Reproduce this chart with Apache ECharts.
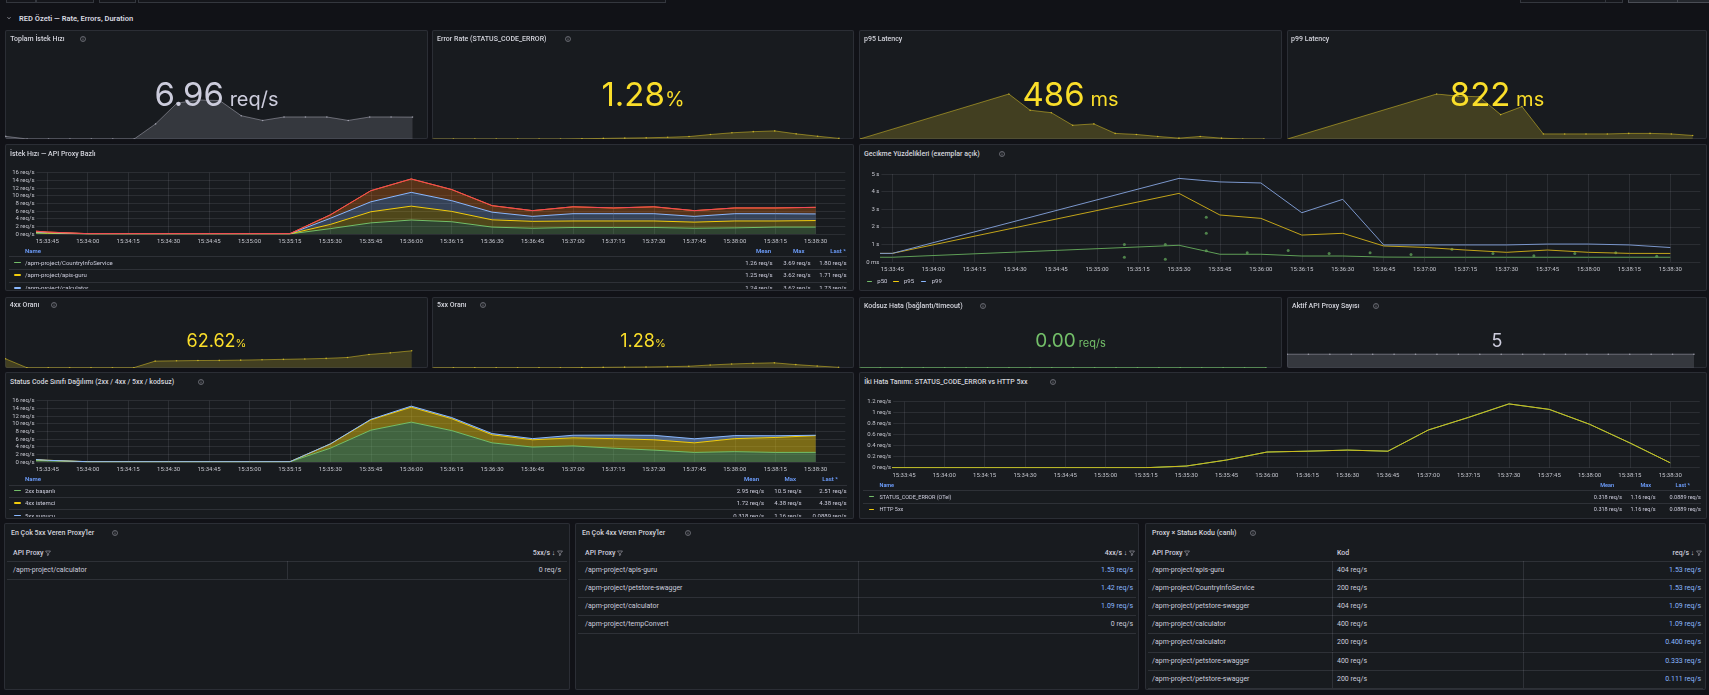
<!DOCTYPE html>
<html lang="tr"><head><meta charset="utf-8"><title>RED Özeti</title>
<script src="https://cdn.jsdelivr.net/npm/echarts@6.0.0/dist/echarts.min.js"></script>
<style>
*{box-sizing:border-box;}
html,body{margin:0;padding:0;background:#111217;}
body{position:relative;width:1709px;height:695px;overflow:hidden;font-family:Roboto,"Liberation Sans",sans-serif;color:#ccccdc;}
.panel{position:absolute;background:#181b1f;box-shadow:inset 0 0 0 1px #2b2e35;border-radius:2px;overflow:hidden;}
.t{position:absolute;white-space:nowrap;height:10px;line-height:10px;}
.stat{position:absolute;left:0;right:0;height:0;line-height:0;text-align:center;white-space:nowrap;font-family:Inter,"Noto Sans",sans-serif;}
.topbox{position:absolute;top:-20px;height:22.7px;border:1px solid #34373e;background:#15161b;}
svg{display:inline-block;vertical-align:middle;}
</style></head><body>
<script>
// ================= DATA =================
const times = ['15:33:30','15:33:45','15:34:00','15:34:15','15:34:30','15:34:45','15:35:00','15:35:15','15:35:30','15:35:45','15:36:00','15:36:15','15:36:30','15:36:45','15:37:00','15:37:15','15:37:30','15:37:45','15:38:00','15:38:15','15:38:30'];
const tickLabels = ['15:33:45','15:34:00','15:34:15','15:34:30','15:34:45','15:35:00','15:35:15','15:35:30','15:35:45','15:36:00','15:36:15','15:36:30','15:36:45','15:37:00','15:37:15','15:37:30','15:37:45','15:38:00','15:38:15','15:38:30'];
const rangeStart = '15:33:41';
const rangeEnd = '15:38:41';

// İstek Hızı — API Proxy Bazlı (req/s, stacked)
const proxyNames = ['/apm-project/CountryInfoService','/apm-project/apis-guru','/apm-project/calculator','/apm-project/petstore-swagger','/apm-project/tempConvert'];
const rateCountryInfo = [0.35,0.15,0.02,0.02,0.02,0.02,0.02,0.02,1.4,2.9,3.65,3.2,1.8,1.5,1.7,1.7,1.7,1.5,1.6,1.8,1.80];
const rateApisGuru    = [0.30,0.12,0.02,0.02,0.02,0.02,0.02,0.02,1.1,2.9,3.62,2.7,1.9,1.8,1.7,1.7,1.7,1.6,1.8,1.6,1.71];
const rateCalculator  = [0.30,0.12,0.02,0.02,0.02,0.02,0.02,0.02,1.6,2.6,3.6,2.8,2.0,1.3,1.9,1.9,1.9,1.5,1.9,1.9,1.73];
const ratePetstore    = [0.35,0.12,0.03,0.03,0.03,0.03,0.03,0.03,0.9,2.9,3.5,2.9,1.7,1.5,1.8,1.5,1.8,1.5,1.5,1.5,1.72];
const rateTempConvert = [0,0,0,0,0,0,0,0,0,0,0,0,0,0,0,0,0,0,0,0,0];
const proxyMean = ['1.26 req/s','1.25 req/s','1.24 req/s','1.22 req/s','0 req/s'];
const proxyMax  = ['3.69 req/s','3.62 req/s','3.62 req/s','3.50 req/s','0 req/s'];
const proxyLast = ['1.80 req/s','1.71 req/s','1.73 req/s','1.72 req/s','0 req/s'];

// Gecikme Yüzdelikleri (seconds)
const latP50 = [0.27,0.27,null,null,null,null,null,null,0.95,0.44,0.44,0.34,0.34,0.28,0.27,0.27,0.27,0.27,0.27,0.27,0.27];
const latP95 = [0.49,0.49,null,null,null,null,null,null,3.9,2.67,2.48,1.53,1.63,0.91,0.83,0.68,0.55,0.68,0.55,0.49,0.486];
const latP99 = [0.49,0.49,null,null,null,null,null,null,4.75,4.55,4.49,2.8,3.56,0.97,0.97,0.97,0.97,1.02,1.02,0.97,0.822];
const exemplarTimes  = ['15:35:10','15:35:10','15:35:25','15:35:25','15:35:40','15:35:40','15:35:40','15:35:55','15:36:10','15:36:25','15:36:40','15:36:55','15:37:10','15:37:25','15:37:40','15:37:55','15:38:10','15:38:25'];
const exemplarValues = [1.0,0.27,1.0,0.15,2.54,1.63,0.64,0.53,0.66,0.49,0.53,0.42,0.72,0.49,0.36,0.49,0.53,0.32];

// Status Code Sınıfı Dağılımı (req/s, stacked)
const codeNames = ['2xx başarılı','4xx istemci','5xx sunucu'];
const code2xx = [0.6,0.35,0.05,0.05,0.05,0.05,0.05,0.05,3.6,8.3,10.4,8.2,5.0,3.9,4.2,3.6,3.1,2.5,2.7,2.5,2.51];
const code4xx = [0.5,0.10,0.03,0.03,0.03,0.03,0.03,0.03,1.1,2.7,3.9,3.1,2.1,1.9,2.1,2.5,2.7,2.5,3.4,3.9,4.38];
const code5xx = [0,0,0,0,0,0,0,0,0.03,0.14,0.285,0.30,0.32,0.30,0.685,0.915,1.16,1.06,0.79,0.45,0.0889];
const codeMean = ['2.95 req/s','1.72 req/s','0.318 req/s'];
const codeMax  = ['10.5 req/s','4.38 req/s','1.16 req/s'];
const codeLast = ['2.51 req/s','4.38 req/s','0.0889 req/s'];

// İki Hata Tanımı
const errNames = ['STATUS_CODE_ERROR (OTel)','HTTP 5xx'];
const errOtel  = [0,0,0,0,0,0,0,0,0.03,0.14,0.285,0.30,0.32,0.30,0.685,0.915,1.16,1.06,0.79,0.45,0.0889];
const errHttp5xx = [0,0,0,0,0,0,0,0,0.03,0.14,0.285,0.30,0.32,0.30,0.685,0.915,1.16,1.06,0.79,0.45,0.0889];
const errMean = ['0.318 req/s','0.318 req/s'];
const errMax  = ['1.16 req/s','1.16 req/s'];
const errLast = ['0.0889 req/s','0.0889 req/s'];

// Stat sparklines (15:33:45 .. 15:38:30)
const sparkTotal     = [0.84,0,0,0,0,0,0,4.8,11.4,12.4,12.2,7.4,5.9,7.0,7.0,7.0,5.9,7.0,7.0,6.96];
const sparkErrorRate = [0,0,0,0,0,0,0,0.6,1.3,2.0,2.6,3.8,5.4,10.0,13.8,16.3,18.0,11.4,6.2,1.28];
const sparkP95 = [0.49,null,null,null,null,null,null,3.9,2.67,2.48,1.53,1.63,0.91,0.83,0.68,0.55,0.68,0.55,0.49,0.486];
const sparkP99 = [0.49,null,null,null,null,null,null,4.75,4.55,4.49,2.8,3.56,0.97,0.97,0.97,0.97,1.02,1.02,0.97,0.822];
const spark4xxRatio = [33,0,0,0,0,0,0,24.4,25.5,26.5,27,28,29.5,31,32.5,34.5,38,49,55,62.62];
const spark5xxRatio = [0,0,0,0,0,0,0,0.6,1.3,2.0,2.6,3.8,5.4,10.0,13.8,16.3,18.0,11.4,6.2,1.28];
const sparkNoCode = [0,0,0,0,0,0,0,0,0,0,0,0,0,0,0,0,0,0,0,0];
const sparkProxyCount = [5,5,5,5,5,5,5,5,5,5,5,5,5,5,5,5,5,5,5,5];

// Tables
const top5xxProxy = ['/apm-project/calculator'];
const top5xxValue = ['0 req/s'];
const top4xxProxy = ['/apm-project/apis-guru','/apm-project/petstore-swagger','/apm-project/calculator','/apm-project/tempConvert'];
const top4xxValue = ['1.53 req/s','1.42 req/s','1.09 req/s','0 req/s'];
const matrixProxy = ['/apm-project/apis-guru','/apm-project/CountryInfoService','/apm-project/petstore-swagger','/apm-project/calculator','/apm-project/calculator','/apm-project/petstore-swagger','/apm-project/petstore-swagger'];
const matrixCode  = ['404 req/s','200 req/s','404 req/s','400 req/s','200 req/s','400 req/s','200 req/s'];
const matrixValue = ['1.53 req/s','1.53 req/s','1.09 req/s','1.09 req/s','0.400 req/s','0.333 req/s','0.111 req/s'];

// ================= STYLE =================
const FONT = 'Roboto, "Liberation Sans", sans-serif';
const TITLE = '#d3d4dc', TXT = '#ccccdc', AX = '#c3c4cc', BLUEH = '#6e9fff';
const GRID = 'rgba(204,204,220,0.11)', SEP = 'rgba(204,204,220,0.13)';
const C_GREEN = '#73BF69', C_YELLOW = '#F2CC0C', C_BLUE = '#8AB8FF', C_ORANGE = '#FF780A', C_RED = '#F2495C';

// ================= HELPERS =================
const toSec = s => { const a = s.split(':').map(Number); return a[0]*3600 + a[1]*60 + a[2]; };
const pad = n => (n < 10 ? '0' : '') + n;
const fmtSec = v => { v = Math.round(v); return pad(Math.floor(v/3600)) + ':' + pad(Math.floor(v%3600/60)) + ':' + pad(v%60); };
const tickSecs = tickLabels.map(toSec);
const pairs = arr => times.map((t,i) => [toSec(t), arr[i]]);
// value-first rows so that stacking happens on the y dimension
const pairsYX = arr => times.map((t,i) => [arr[i], toSec(t)]);

function panel(x,y,w,h){ const d=document.createElement('div'); d.className='panel'; Object.assign(d.style,{left:x+'px',top:y+'px',width:w+'px',height:h+'px'}); document.body.appendChild(d); return d; }
function chartIn(p){ const d=document.createElement('div'); d.style.cssText='position:absolute;left:0;top:0;width:100%;height:100%;'; p.appendChild(d); return echarts.init(d,null,{renderer:'canvas'}); }
function txt(p, x, cy, s, o={}) {
  const d=document.createElement('div'); d.className='t';
  if (o.html) d.innerHTML = s; else d.textContent = s;
  d.style.top=(cy-5)+'px'; d.style.fontSize=(o.size||6)+'px'; d.style.color=o.color||TXT;
  if(o.weight) d.style.fontWeight=o.weight;
  if(o.right){ d.style.left=(x-400)+'px'; d.style.width='400px'; d.style.textAlign='right'; } else d.style.left=x+'px';
  p.appendChild(d); return d;
}
const INFO = '<svg width="6" height="6" viewBox="0 0 12 12"><circle cx="6" cy="6" r="5" fill="none" stroke="#8e8f99" stroke-width="1.3"/><rect x="5.35" y="5" width="1.3" height="4" fill="#8e8f99"/><circle cx="6" cy="3.3" r="0.8" fill="#8e8f99"/></svg>';
const FUNNEL = '<svg width="6" height="6" viewBox="0 0 12 12"><path d="M1 2h10L7.2 6.6v3.6L4.8 11.2V6.6z" fill="none" stroke="#a4a5ae" stroke-width="1.2" stroke-linejoin="round"/></svg>';
function icon(p, x, cy, svg){ const d=document.createElement('div'); d.style.cssText=`position:absolute;left:${x}px;top:${cy-3}px;width:6px;height:6px;line-height:0;`; d.innerHTML=svg; p.appendChild(d); }
function title(p, x, cy, s, iconX){ txt(p,x,cy,s,{size:7,weight:500,color:TITLE}); if(iconX!=null) icon(p,iconX,cy,INFO); }
function hline(p,x,y,w,c){ const d=document.createElement('div'); d.style.cssText=`position:absolute;left:${x}px;top:${y}px;width:${w}px;height:1px;background:${c||SEP};`; p.appendChild(d); }
function vline(p,x,y,h,c){ const d=document.createElement('div'); d.style.cssText=`position:absolute;left:${x}px;top:${y}px;width:1px;height:${h}px;background:${c||SEP};`; p.appendChild(d); }
function mark(p,x,cy,w,c){ const d=document.createElement('div'); d.style.cssText=`position:absolute;left:${x}px;top:${cy-0.75}px;width:${w}px;height:1.5px;border-radius:1px;background:${c};`; p.appendChild(d); }

function statValue(p, baseline, big, unit, color, fBig, fUnit){
  const d=document.createElement('div'); d.className='stat';
  d.style.top=(baseline-0.3635*fBig)+'px'; d.style.fontSize=fBig+'px'; d.style.color=color;
  const a=document.createElement('span'); a.textContent=big;
  const b=document.createElement('span'); b.textContent=unit; b.style.fontSize=fUnit+'px';
  d.append(a,b); p.appendChild(d);
}
function spark(p, data, o){
  const c=chartIn(p);
  c.setOption({animation:false,
    grid:{left:o.left,right:o.right,top:o.top,height:o.height},
    xAxis:{type:'category',show:false,boundaryGap:false,data:tickLabels},
    yAxis:{type:'value',show:false,min:o.min,max:o.max},
    series:[{type:'line',data:data,connectNulls:true,symbol:'circle',symbolSize:1.6,showSymbol:true,
      itemStyle:{color:o.dot},lineStyle:{color:o.line,width:1},
      areaStyle:{color:o.fill,opacity:1,origin:'start'}}]});
}
function timeAxis(margin){
  return {type:'value',min:toSec(rangeStart),max:toSec(rangeEnd),
    axisLine:{show:false},axisTick:{show:false,customValues:tickSecs},
    axisLabel:{customValues:tickSecs,formatter:fmtSec,color:AX,fontSize:6,fontFamily:FONT,margin:margin},
    splitLine:{show:true,lineStyle:{color:GRID,width:1}}};
}
function valAxis(min,max,interval,fmt,margin){
  return {type:'value',min:min,max:max,interval:interval,
    axisLine:{show:false},axisTick:{show:false},
    axisLabel:{formatter:fmt,color:AX,fontSize:6,fontFamily:FONT,margin:margin},
    splitLine:{show:true,lineStyle:{color:GRID,width:1}}};
}
function stackSeries(name, arr, color, op){
  return {name, type:'line', stack:'s', data:pairsYX(arr), encode:{x:1,y:0}, showSymbol:false,
    lineStyle:{color, width:1}, itemStyle:{color}, areaStyle:{color, opacity:op}};
}
function legendTable(p, o){
  const clip=document.createElement('div'); clip.style.cssText=`position:absolute;left:0;top:${o.clipTop}px;width:100%;height:${o.clipH}px;overflow:hidden;`; p.appendChild(clip);
  const off=o.clipTop;
  txt(clip,o.nameX,o.headY-off,'Name',{size:o.fs,weight:600,color:BLUEH});
  o.headers.forEach((h,i)=>txt(clip,o.headRight[i],o.headY-off,h,{size:o.fs,weight:600,color:BLUEH,right:true}));
  o.rows.forEach((r,i)=>{
    const sy=o.sep0+i*o.pitch-off; hline(clip,o.sepX0,sy,o.sepX1-o.sepX0);
    const cy=sy+o.pitch/2;
    mark(clip,o.markX,cy,o.markW,r.color);
    txt(clip,o.nameX,cy,r.name,{size:o.fs});
    r.vals.forEach((v,j)=>txt(clip,o.colRight[j],cy,v,{size:o.fs,right:true}));
  });
}

// ================= PAGE CHROME =================
[[6,30],[36,58],[99,37],[138,528],[1520,103]].forEach(b=>{const d=document.createElement('div');d.className='topbox';d.style.left=b[0]+'px';d.style.width=b[1]+'px';document.body.appendChild(d);});
(()=>{const d=document.createElement('div');d.className='topbox';d.style.left='1628px';d.style.width='90px';d.style.background='#24272d';d.style.borderColor='#4a4d55';document.body.appendChild(d);})();
vline(document.body,1605,0,3,'#34373e'); vline(document.body,1677,0,3,'#4a4d55');
(()=>{const d=document.createElement('div');d.style.cssText='position:absolute;left:6px;top:15px;width:6px;height:6px;line-height:0;';d.innerHTML='<svg width="6" height="6" viewBox="0 0 12 12"><path d="M3 4.5l3 3 3-3" fill="none" stroke="#c8c9d1" stroke-width="1.4"/></svg>';document.body.appendChild(d);})();
txt(document.body,19,18.5,'RED Özeti — Rate, Errors, Duration',{size:7.5,weight:600,color:'#d8d9e0'});

// ================= ROW 1 STATS =================
const P1=panel(5,30,423,109), P2=panel(432,30,422,109), P3=panel(859,30,423,109), P4=panel(1287,30,420,109);
const GRAYS={line:'rgba(204,204,220,0.42)',fill:'rgba(204,204,220,0.17)',dot:'rgba(204,204,220,0.6)'};
const YELS={line:'rgba(250,222,42,0.45)',fill:'rgba(250,222,42,0.19)',dot:'rgba(250,222,42,0.6)'};
spark(P1,sparkTotal,Object.assign({left:0.7,right:15.5,top:64,height:45,min:0,max:14.3},GRAYS));
spark(P2,sparkErrorRate,Object.assign({left:0,right:15,top:64,height:45,min:0,max:100},YELS));
spark(P3,sparkP95,Object.assign({left:1,right:18,top:64,height:45,min:'dataMin',max:'dataMax'},YELS));
spark(P4,sparkP99,Object.assign({left:0.3,right:14.3,top:64,height:45,min:'dataMin',max:'dataMax'},YELS));
title(P1,5.3,9.3,'Toplam İstek Hızı',74.6); statValue(P1,76,'6.96',' req/s','#ccccdc',33,20);
title(P2,5,9.3,'Error Rate (STATUS_CODE_ERROR)',133); statValue(P2,76,'1.28','%','#FADE2A',33,20);
title(P3,5,9.3,'p95 Latency'); statValue(P3,76,'486',' ms','#FADE2A',33,20);
title(P4,4,9.3,'p99 Latency'); statValue(P4,76,'822',' ms','#FADE2A',33,20);

// ================= İSTEK HIZI =================
const P5=panel(5,144,849,147);
title(P5,5,10,'İstek Hızı — API Proxy Bazlı');
const c5=chartIn(P5);
c5.setOption({animation:false,grid:{left:31.5,right:8.7,top:28.7,bottom:57},
  xAxis:timeAxis(4), yAxis:valAxis(0,16,2,v=>v+' req/s',2),
  series:[stackSeries(proxyNames[0],rateCountryInfo,C_GREEN,0.25),stackSeries(proxyNames[1],rateApisGuru,C_YELLOW,0.25),
    stackSeries(proxyNames[2],rateCalculator,C_BLUE,0.25),stackSeries(proxyNames[3],ratePetstore,C_ORANGE,0.27),
    stackSeries(proxyNames[4],rateTempConvert,C_RED,0.25)]});
legendTable(P5,{clipTop:100,clipH:45,headY:106.7,sep0:112.3,pitch:12.6,nameX:20,markX:9.3,markW:6.7,sepX0:4,sepX1:842,fs:6,
  headers:['Mean','Max','Last *'],headRight:[766,799.5,841],colRight:[767.7,805.7,841.7],
  rows:proxyNames.map((n,i)=>({name:n,color:[C_GREEN,C_YELLOW,C_BLUE,C_ORANGE,C_RED][i],vals:[proxyMean[i],proxyMax[i],proxyLast[i]]}))});

// ================= GECİKME =================
const P6=panel(859,144,848,147);
title(P6,5,10,'Gecikme Yüzdelikleri (exemplar açık)',140);
const c6=chartIn(P6);
const latLine=(name,arr,color)=>({name,type:'line',data:pairs(arr),connectNulls:true,showSymbol:false,lineStyle:{color,width:1},itemStyle:{color}});
c6.setOption({animation:false,grid:{left:22.4,right:6.6,top:30,bottom:29},
  xAxis:timeAxis(4), yAxis:valAxis(0,5,1,v=>v===0?'0 ms':v+' s',2),
  series:[latLine('p50',latP50,'#5f9f57'),latLine('p95',latP95,'#c2a41a'),latLine('p99',latP99,'#7b97cc'),
    {name:'exemplar',type:'scatter',data:exemplarTimes.map((t,i)=>[toSec(t),exemplarValues[i]]),symbol:'circle',symbolSize:3,itemStyle:{color:'#5e9d56'}}]});
[['p50',C_GREEN,7.7,18.3],['p95',C_YELLOW,34.3,45],['p99',C_BLUE,61.7,72.7]].forEach(l=>{mark(P6,l[2],137.3,5.6,l[1]);txt(P6,l[3],137.3,l[0],{size:6});});

// ================= ROW 3 STATS =================
const P7=panel(5,297,423,71), P8=panel(432,297,422,71), P9=panel(859,297,423,71), P10=panel(1287,297,420,71);
spark(P7,spark4xxRatio,Object.assign({left:0.5,right:16.3,top:43.7,height:27,min:0,max:100},YELS));
spark(P8,spark5xxRatio,Object.assign({left:0,right:15.4,top:43.7,height:27,min:0,max:100},YELS));
spark(P9,sparkNoCode,{left:0,right:16,top:43.7,height:27,min:0,max:1,line:'rgba(115,191,105,0.75)',fill:'rgba(115,191,105,0.2)',dot:'rgba(115,191,105,0.8)'});
spark(P10,sparkProxyCount,Object.assign({left:0,right:13,top:43.7,height:27,min:0,max:10},GRAYS));
title(P7,4.8,8,'4xx Oranı',46); statValue(P7,50.6,'62.62','%','#FADE2A',18,11);
title(P8,5,8,'5xx Oranı',47.5); statValue(P8,50.6,'1.28','%','#FADE2A',18,11);
title(P9,5,8.7,'Kodsuz Hata (bağlantı/timeout)',121); statValue(P9,50.6,'0.00',' req/s','#73BF69',19,11);
title(P10,5,8.7,'Aktif API Proxy Sayısı',86); statValue(P10,50.6,'5','','#ccccdc',18,11);

// ================= STATUS CODE =================
const P11=panel(5,372,849,147);
title(P11,5,9.7,'Status Code Sınıfı Dağılımı (2xx / 4xx / 5xx / kodsuz)',193);
const c11=chartIn(P11);
c11.setOption({animation:false,grid:{left:31.5,right:8.7,top:28.7,bottom:57},
  xAxis:timeAxis(4), yAxis:valAxis(0,16,2,v=>v+' req/s',2),
  series:[stackSeries(codeNames[0],code2xx,C_GREEN,0.45),stackSeries(codeNames[1],code4xx,C_YELLOW,0.45),stackSeries(codeNames[2],code5xx,C_BLUE,0.45)]});
legendTable(P11,{clipTop:100,clipH:45,headY:106.7,sep0:112.5,pitch:12.4,nameX:20,markX:9.3,markW:6.7,sepX0:4,sepX1:842,fs:6,
  headers:['Mean','Max','Last *'],headRight:[754,791,833],colRight:[759,796.7,841.7],
  rows:codeNames.map((n,i)=>({name:n,color:[C_GREEN,C_YELLOW,C_BLUE][i],vals:[codeMean[i],codeMax[i],codeLast[i]]}))});

// ================= İKİ HATA =================
const P12=panel(859,372,848,147);
title(P12,5.3,9.7,'İki Hata Tanımı: STATUS_CODE_ERROR vs HTTP 5xx',191);
const c12=chartIn(P12);
c12.setOption({animation:false,grid:{left:34.2,right:7.2,top:29.7,bottom:51.3},
  xAxis:timeAxis(5), yAxis:valAxis(0,1.2,0.2,v=>(Math.round(v*10)/10)+' req/s',2),
  series:[{name:errNames[0],type:'line',data:pairs(errOtel),showSymbol:false,lineStyle:{color:C_GREEN,width:1}},
          {name:errNames[1],type:'line',data:pairs(errHttp5xx),showSymbol:false,lineStyle:{color:'#cdbb1c',width:1}}]});
legendTable(P12,{clipTop:106,clipH:40,headY:113,sep0:118.3,pitch:12.7,nameX:20.5,markX:9.6,markW:5.4,sepX0:4,sepX1:842,fs:5.5,
  headers:['Mean','Max','Last *'],headRight:[755,792,831],colRight:[763,796.6,841.8],
  rows:errNames.map((n,i)=>({name:n,color:[C_GREEN,C_YELLOW][i],vals:[errMean[i],errMax[i],errLast[i]]}))});

// ================= TABLES =================
function tableHeader(p, x, cy, label, right){
  if(right) txt(p,x,cy,label+' ↓ '+FUNNEL,{size:7,weight:500,right:true,html:true});
  else txt(p,x,cy,label+' '+FUNNEL,{size:7,weight:500,html:true});
}
function tableRows(p, o){
  const n=o.cols[0].values.length;
  hline(p,3,o.sep0,o.w-6);
  for(let i=0;i<n;i++){
    const top=o.sep0+i*o.pitch, cy=top+o.pitch/2;
    hline(p,3,top+o.pitch,o.w-6);
    o.cols.forEach(c=>txt(p,c.x,cy,c.values[i],{size:7,right:c.right,color:c.colorFn?c.colorFn(c.values[i]):TXT}));
    o.dividers.forEach(dx=>vline(p,dx,top,o.pitch));
  }
}
const valColor = v => (parseFloat(v) > 0 ? '#8ab8ff' : TXT);
const T1=panel(4,523,566,167), T2=panel(575,523,564,167), T3=panel(1145,523,561,167);
title(T1,7,10,'En Çok 5xx Veren Proxy\'ler',108);
tableHeader(T1,9,30,'API Proxy'); tableHeader(T1,559,30,'5xx/s',true);
tableRows(T1,{w:566,sep0:37.5,pitch:18.2,dividers:[283],cols:[{x:9,values:top5xxProxy},{x:557,right:true,values:top5xxValue,colorFn:valColor}]});
title(T2,7,10,'En Çok 4xx Veren Proxy\'ler',110);
tableHeader(T2,10,30,'API Proxy'); tableHeader(T2,560,30,'4xx/s',true);
tableRows(T2,{w:564,sep0:37.5,pitch:18.2,dividers:[283],cols:[{x:10,values:top4xxProxy},{x:558,right:true,values:top4xxValue,colorFn:valColor}]});
title(T3,7,10,'Proxy × Status Kodu (canlı)',105);
tableHeader(T3,7,30,'API Proxy'); txt(T3,192,30,'Kod',{size:7,weight:500}); tableHeader(T3,557,30,'req/s',true);
tableRows(T3,{w:561,sep0:37.5,pitch:18.2,dividers:[187,378],cols:[{x:7,values:matrixProxy},{x:192,values:matrixCode},{x:556,right:true,values:matrixValue,colorFn:valColor}]});
</script>
</body></html>
